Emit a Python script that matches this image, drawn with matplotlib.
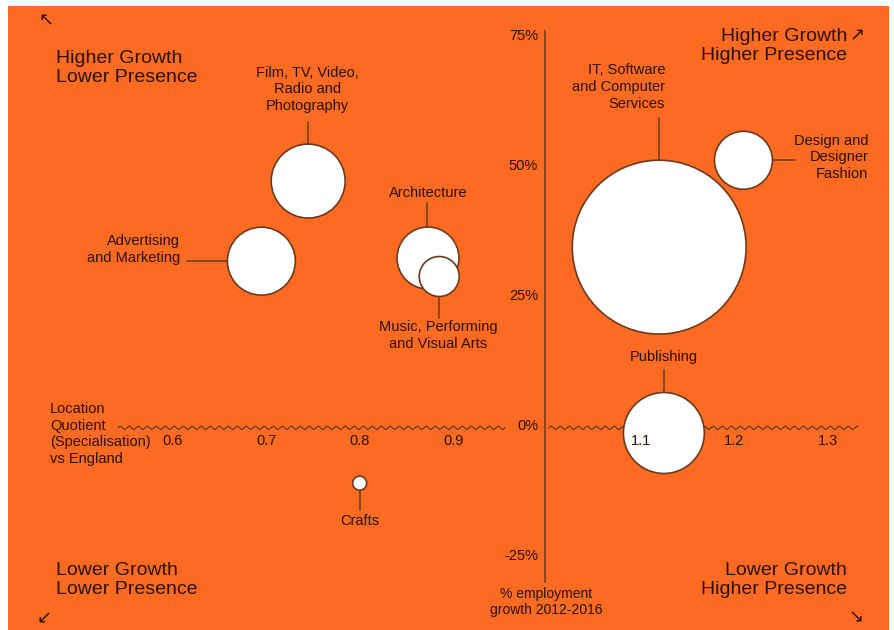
import matplotlib.pyplot as plt
import numpy as np
from matplotlib.patches import Rectangle
from matplotlib.transforms import offset_copy

# Creative sectors: location quotient vs England, employment growth 2012-2016
sectors = ['Film, TV, Video,\nRadio and\nPhotography', 'Advertising\nand Marketing',
           'Architecture', 'Music, Performing\nand Visual Arts',
           'IT, Software\nand Computer\nServices', 'Design and\nDesigner\nFashion',
           'Publishing', 'Crafts']
quotient = [0.747, 0.697, 0.875, 0.887, 1.122, 1.212, 1.127, 0.802]
growth = [47.1, 31.7, 32.3, 28.75, 34.4, 51.1, -1.35, -11.0]
jobs = [1370, 1156, 961, 400, 7570, 841, 1640, 49]  # relative size of each sector

x_ticks = [0.6, 0.7, 0.8, 0.9, 1.1, 1.2, 1.3]
y_ticks = [75, 50, 25, 0, -25]

ORANGE = '#fd6a22'
INK = '#2a1207'
EDGE = '#6b3a1e'
plt.rcParams['font.family'] = ['Liberation Sans', 'DejaVu Sans']

W, H = 894, 630
fig = plt.figure(figsize=(W / 100, H / 100), dpi=100, facecolor='white')
fig.patches.append(Rectangle((8 / W, 0), 881 / W, 1 - 6 / H, transform=fig.transFigure,
                             fc=ORANGE, ec='none', zorder=-10))
ax = fig.add_axes([0, 0, 1, 1])
ax.set_facecolor('none')
ax.set_xlim(0.41774, 1.37286)
ax.set_ylim(-39.231, 81.923)
ax.axis('off')


def shifted(dx, dy):
    # offset in pixels, y measured downwards like the picture
    return offset_copy(ax.transData, fig=fig, x=dx, y=-dy, units='dots')


def fig_text(x, y, s, **kw):
    kw.setdefault('color', INK)
    fig.text(x / W, 1 - y / H, s, **kw)


# label placement, pixel offsets from bubble centre: leader (x0, y0, x1, y1), text (dx, dy, ha, va)
place = [
    ((0, -37, 0, -59), (-1, -68, 'center', 'bottom')),
    ((-34, 0, -74, 0), (-81, -12, 'right', 'center')),
    ((-1, -30, -1, -55), (0, -65, 'center', 'center')),
    ((0, 20, 0, 42), (-1, 44, 'center', 'top')),
    ((0, -87, 0, -129), (6, -160, 'right', 'center')),
    ((29, 0, 52, 0), (125, -3, 'right', 'center')),
    ((0, -40, 0, -63), (0, -76, 'center', 'center')),
    ((0, 7, 0, 27), (0, 38, 'center', 'center')),
]

ax.scatter(quotient, growth, s=np.array(jobs) * 2.07, c='white', edgecolors=EDGE,
           linewidths=1.2, zorder=3)

inv = ax.transData.inverted()
for name, qx, gy, (line, txt) in zip(sectors, quotient, growth, place):
    x0, y0, x1, y1 = line
    bx, by = ax.transData.transform((qx, gy))
    p0 = inv.transform((bx + x0, by - y0))
    p1 = inv.transform((bx + x1, by - y1))
    ax.plot([p0[0], p1[0]], [p0[1], p1[1]], color=EDGE, lw=1.1, zorder=2)
    dx, dy, ha, va = txt
    ax.text(qx, gy, name, transform=shifted(dx, dy), ha=ha, va=va, fontsize=10.5,
            color=INK, linespacing=1.25, zorder=4)

# axes: vertical growth axis and wavy quotient axis
ax.plot([1.0, 1.0], [76, -30], color=EDGE, lw=1.1, zorder=1)
for xa, xb in [(0.5438, 0.9573), (1.0043, 1.3344)]:
    xs = np.linspace(xa, xb, 1500)
    ax.plot(xs, -0.35 + 0.3 * np.sin(2 * np.pi * (xs - xa) * 936 / 9), color=EDGE,
            lw=0.9, zorder=1)

for t in x_ticks:
    ax.text(t, 0, f'{t:.1f}', transform=shifted(2, 15), ha='center', va='center',
            fontsize=10.5, color=INK, zorder=5)
for t in y_ticks:
    ax.text(1.0, t, f'{t}%', transform=shifted(-7, 0), ha='right', va='center',
            fontsize=10.5, color=INK, zorder=5)

corner = dict(fontsize=14, linespacing=1.2, va='center')
fig_text(56, 68, 'Higher Growth\nLower Presence', ha='left', **corner)
fig_text(847, 46, 'Higher Growth\nHigher Presence', ha='right', **corner)
fig_text(56, 580, 'Lower Growth\nLower Presence', ha='left', **corner)
fig_text(847, 580, 'Lower Growth\nHigher Presence', ha='right', **corner)
arrow = dict(fontsize=13, ha='center', va='center', family=['DejaVu Sans'])
fig_text(46, 20, '\u2196', **arrow)
fig_text(857, 35, '\u2197', **arrow)
fig_text(44, 619, '\u2199', **arrow)
fig_text(856, 618, '\u2198', **arrow)

fig_text(50, 434, 'Location\nQuotient\n(Specialisation)\nvs England', ha='left',
         va='center', fontsize=10.5, linespacing=1.25)
fig_text(546, 602, '% employment\ngrowth 2012-2016', ha='center', va='center',
         fontsize=10, linespacing=1.25)

fig.savefig('out.png', dpi=100, facecolor='white')
